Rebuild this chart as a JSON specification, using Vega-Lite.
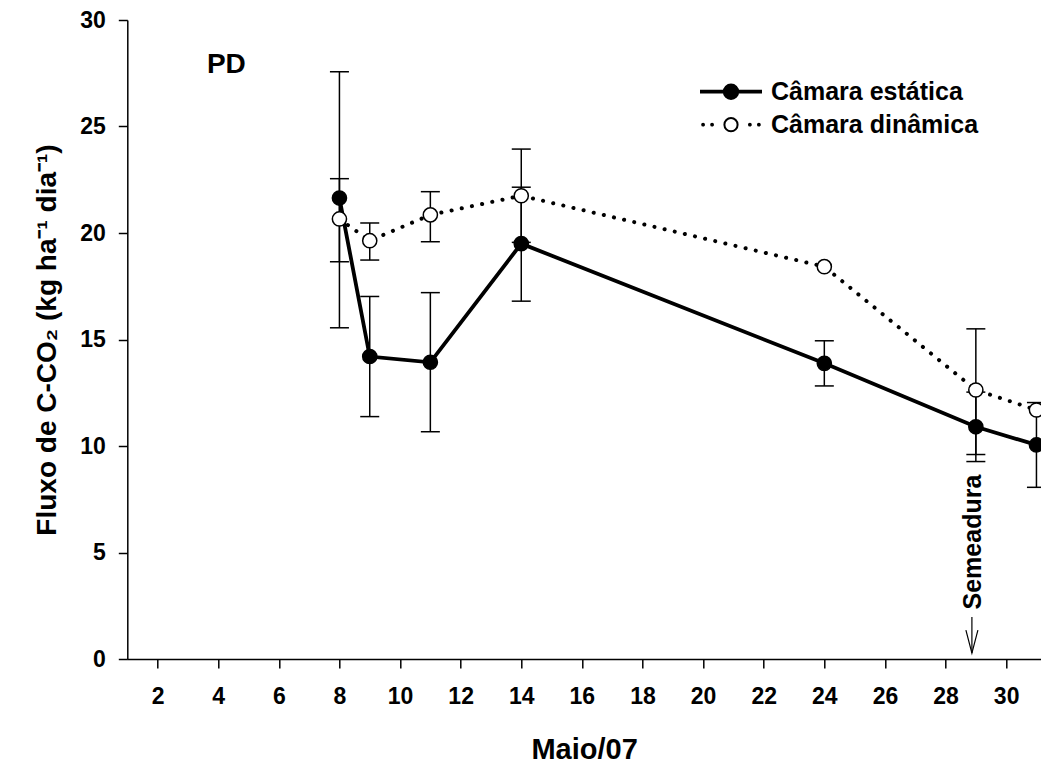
{
  "$schema": "https://vega.github.io/schema/vega-lite/v6.json",
  "width": 913.7,
  "height": 639,
  "autosize": {"type": "none"},
  "padding": {"left": 127.3, "top": 20, "right": 0, "bottom": 107},
  "background": "white",
  "config": {
    "view": {"stroke": null},
    "font": "Liberation Sans",
    "axis": {
      "grid": false,
      "domainColor": "black",
      "domainWidth": 1.5,
      "tickColor": "black",
      "tickWidth": 1.5,
      "tickSize": 9,
      "labelFont": "Liberation Sans",
      "labelFontSize": 23,
      "labelFontWeight": "bold",
      "labelColor": "black",
      "titleFont": "Liberation Sans",
      "titleFontWeight": "bold",
      "titleColor": "black"
    }
  },
  "datasets": {
    "fluxo": [
      {"dia": 8, "serie": "Câmara estática", "fluxo": 21.64, "min": 15.55, "max": 27.57},
      {"dia": 9, "serie": "Câmara estática", "fluxo": 14.2, "min": 11.38, "max": 17.02},
      {"dia": 11, "serie": "Câmara estática", "fluxo": 13.93, "min": 10.67, "max": 17.2},
      {"dia": 14, "serie": "Câmara estática", "fluxo": 19.5, "min": 16.8, "max": 22.15},
      {"dia": 24, "serie": "Câmara estática", "fluxo": 13.88, "min": 12.82, "max": 14.94},
      {"dia": 29, "serie": "Câmara estática", "fluxo": 10.9, "min": 9.27, "max": 12.53},
      {"dia": 31, "serie": "Câmara estática", "fluxo": 10.05, "min": 8.06, "max": 12.04},
      {"dia": 8, "serie": "Câmara dinâmica", "fluxo": 20.66, "min": 18.65, "max": 22.55},
      {"dia": 9, "serie": "Câmara dinâmica", "fluxo": 19.64, "min": 18.73, "max": 20.47},
      {"dia": 11, "serie": "Câmara dinâmica", "fluxo": 20.85, "min": 19.59, "max": 21.94},
      {"dia": 14, "serie": "Câmara dinâmica", "fluxo": 21.75, "min": 19.56, "max": 23.94},
      {"dia": 24, "serie": "Câmara dinâmica", "fluxo": 18.42, "min": null, "max": null},
      {"dia": 29, "serie": "Câmara dinâmica", "fluxo": 12.63, "min": 9.6, "max": 15.5},
      {"dia": 31, "serie": "Câmara dinâmica", "fluxo": 11.69, "min": null, "max": null}
    ],
    "rotulos": [
      {"texto": "PD", "dia": 4.27, "fluxo": 27.89}
    ],
    "semeadura": [
      {"texto": "Semeadura", "dia": 28.89, "fluxo": 5.49, "seta_topo": 1.97, "seta_ponta": 0.28, "dia_seta": 28.87}
    ]
  },
  "layer": [
    {
      "data": {"name": "fluxo"},
      "transform": [{"filter": "datum.min != null"}],
      "mark": {"type": "rule", "color": "black", "strokeWidth": 1.5},
      "encoding": {
        "x": {"field": "dia", "type": "quantitative", "scale": {"domain": [1, 31.15], "nice": false, "zero": false},
              "axis": {"values": [2,4,6,8,10,12,14,16,18,20,22,24,26,28,30], "title": "Maio/07", "titleFontSize": 29, "labelPadding": 17, "titlePadding": 27}},
        "y": {"field": "min", "type": "quantitative", "scale": {"domain": [0, 30], "nice": false},
              "axis": {"values": [0,5,10,15,20,25,30], "title": "Fluxo de C-CO₂  (kg ha⁻¹ dia⁻¹)", "titleFontSize": 28, "labelPadding": 13, "titlePadding": 18}},
        "y2": {"field": "max"}
      }
    },
    {
      "data": {"name": "fluxo"},
      "transform": [{"filter": "datum.min != null"}],
      "mark": {"type": "tick", "orient": "horizontal", "color": "black", "size": 19, "thickness": 1.5, "opacity": 1},
      "encoding": {
        "x": {"field": "dia", "type": "quantitative"},
        "y": {"field": "min", "type": "quantitative"}
      }
    },
    {
      "data": {"name": "fluxo"},
      "transform": [{"filter": "datum.min != null"}],
      "mark": {"type": "tick", "orient": "horizontal", "color": "black", "size": 19, "thickness": 1.5, "opacity": 1},
      "encoding": {
        "x": {"field": "dia", "type": "quantitative"},
        "y": {"field": "max", "type": "quantitative"}
      }
    },
    {
      "data": {"name": "fluxo"},
      "transform": [{"filter": "datum.serie === 'Câmara estática'"}],
      "mark": {"type": "line", "color": "black", "strokeWidth": 3.8},
      "encoding": {
        "x": {"field": "dia", "type": "quantitative"},
        "y": {"field": "fluxo", "type": "quantitative"}
      }
    },
    {
      "data": {"name": "fluxo"},
      "transform": [{"filter": "datum.serie === 'Câmara dinâmica'"}],
      "mark": {"type": "line", "color": "black", "strokeWidth": 4, "strokeDash": [0.1, 10.3], "strokeCap": "round"},
      "encoding": {
        "x": {"field": "dia", "type": "quantitative"},
        "y": {"field": "fluxo", "type": "quantitative"}
      }
    },
    {
      "data": {"name": "fluxo"},
      "mark": {"type": "point", "shape": "circle", "filled": true, "size": 200, "stroke": "black", "strokeWidth": 1.5, "opacity": 1},
      "encoding": {
        "x": {"field": "dia", "type": "quantitative"},
        "y": {"field": "fluxo", "type": "quantitative"},
        "fill": {
          "field": "serie", "type": "nominal",
          "scale": {"domain": ["Câmara estática", "Câmara dinâmica"], "range": ["black", "white"]},
          "legend": {
            "title": null,
            "orient": "none",
            "legendX": 572.7,
            "legendY": 56.7,
            "padding": 0,
            "symbolSize": 3600,
            "symbolStrokeColor": "black",
            "symbolStrokeWidth": 2,
            "symbolOpacity": 1,
            "clipHeight": 30,
            "rowPadding": 3,
            "labelOffset": 9,
            "labelFont": "Liberation Sans",
            "labelFontSize": 25,
            "labelFontWeight": "bold",
            "labelColor": "black",
            "labelLimit": 400,
            "encode": {
              "symbols": {
                "update": {
                  "shape": {"signal": "datum.value === 'Câmara estática' ? 'M-1,-0.03H1V0.03H-1Z M-0.24,0A0.24,0.24,0,1,1,0.24,0A0.24,0.24,0,1,1,-0.24,0Z' : 'M-0.22,0A0.22,0.22,0,1,1,0.22,0A0.22,0.22,0,1,1,-0.22,0Z M-0.96,0A0.03,0.03,0,1,1,-0.9,0A0.03,0.03,0,1,1,-0.96,0Z M-0.66,0A0.03,0.03,0,1,1,-0.6,0A0.03,0.03,0,1,1,-0.66,0Z M0.6,0A0.03,0.03,0,1,1,0.66,0A0.03,0.03,0,1,1,0.6,0Z M0.9,0A0.03,0.03,0,1,1,0.96,0A0.03,0.03,0,1,1,0.9,0Z'"}
                }
              }
            }
          }
        }
      }
    },
    {
      "data": {"name": "rotulos"},
      "mark": {"type": "text", "font": "Liberation Sans", "fontSize": 28, "fontWeight": "bold", "color": "black", "align": "center", "baseline": "middle"},
      "encoding": {
        "x": {"field": "dia", "type": "quantitative"},
        "y": {"field": "fluxo", "type": "quantitative"},
        "text": {"field": "texto"}
      }
    },
    {
      "data": {"name": "semeadura"},
      "mark": {"type": "text", "font": "Liberation Sans", "fontSize": 25, "fontWeight": "bold", "color": "black", "align": "center", "baseline": "middle", "angle": 270},
      "encoding": {
        "x": {"field": "dia", "type": "quantitative"},
        "y": {"field": "fluxo", "type": "quantitative"},
        "text": {"field": "texto"}
      }
    },
    {
      "data": {"name": "semeadura"},
      "mark": {"type": "rule", "color": "black", "strokeWidth": 1.2},
      "encoding": {
        "x": {"field": "dia_seta", "type": "quantitative"},
        "y": {"field": "seta_topo", "type": "quantitative"},
        "y2": {"field": "seta_ponta"}
      }
    },
    {
      "data": {"name": "semeadura"},
      "mark": {"type": "point", "shape": "M-6,-23L0,0L6,-23", "size": 4, "filled": false, "stroke": "black", "strokeWidth": 1.2, "opacity": 1},
      "encoding": {
        "x": {"field": "dia_seta", "type": "quantitative"},
        "y": {"field": "seta_ponta", "type": "quantitative"}
      }
    }
  ]
}
